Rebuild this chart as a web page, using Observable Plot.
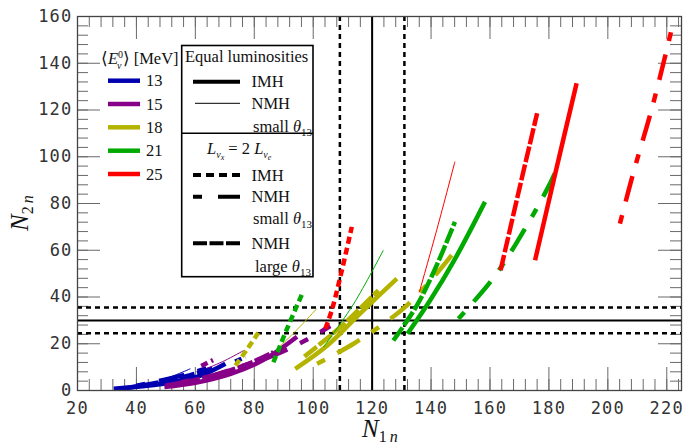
<!DOCTYPE html>
<html><head><meta charset="utf-8">
<script src="https://cdn.jsdelivr.net/npm/d3@7"></script>
<script src="https://cdn.jsdelivr.net/npm/@observablehq/plot@0.6"></script>
<style>body{margin:0;background:#fff} #chart svg{display:block}
.lg text{font-family:"Liberation Serif","Times New Roman",serif;text-anchor:start;fill:#111}
</style>
</head><body><div id="chart"></div>
<script>
// ---- data ----
const energies = [13, 15, 18, 21, 25];
const colors = ["#0000b0", "#880088", "#b4b400", "#00aa00", "#ff0000"];
const xTicks = [20, 40, 60, 80, 100, 120, 140, 160, 180, 200, 220];
const yTicks = [0, 20, 40, 60, 80, 100, 120, 140, 160];

// E = 13 MeV
const e13_eqIMH = [[32.3,0.7],[42,1.8],[52.6,3.6],[62,6.5],[70.2,11.4]];
const e13_eqNMH = [[48.1,4.3],[53,6.5],[58.3,9.3]];
const e13_lxIMH = [[73.5,12.4],[77,14.3]];
const e13_lxNMHs = [[40,2],[50,4.7],[60,8],[68,11.2]];
const e13_lxNMHl = [[36,1],[48,3.5],[58,6.5],[66,9.6]];
// E = 15 MeV
const e15_eqIMH = [[49.5,1.5],[60,3.3],[72,7.1],[83,13],[94.5,23]];
const e15_eqNMH = [[64,9.5],[70,12.8],[76.4,17.1]];
const e15_lxIMH = [[62,10.5],[66,13]];
const e15_lxNMHs = [[55,3.5],[66,6.5],[76,10.5],[86.5,15],[98.4,22.1],[105.8,27.6]];
const e15_lxNMHl = [[50,2.2],[60,4.5],[70,7.8],[80,12.5],[86.5,16.4]];
// E = 18 MeV
const e18_eqIMH = [[93.9,9.3],[105,19.5],[115.9,32.9],[128.4,47.9]];
const e18_eqNMH = [[88,18],[94.5,26],[101.2,35]];
const e18_lxIMH = [[73.6,10.7],[77.5,17.5],[81.5,25]];
const e18_lxNMHs = [[101.3,11.4],[113.7,20],[125.5,30],[131.8,36.4],[141.4,49.3],[147,57.9]];
const e18_lxNMHl = [[97,14.5],[110,28],[122.1,42.9]];
// E = 21 MeV
const e21_eqIMH = [[132,24.3],[139.7,38.6],[148,56],[158.3,80.7]];
const e21_eqNMH = [[103.5,18.6],[113.7,37],[123.8,60]];
const e21_lxIMH = [[86.5,12.1],[91.1,26.4],[96.3,41.5]];
const e21_lxNMHs = [[149.3,30.7],[160.5,47.1],[168.5,62.1],[179.8,87.1],[183.5,97.2]];
const e21_lxNMHl = [[127.2,21.4],[135,36],[141,51],[148.1,72.1]];
// E = 25 MeV
const e25_eqIMH = [[175.3,55.7],[182,92],[189.4,131.4]];
const e25_eqNMH = [[136,42],[142,69],[148.1,97.9]];
const e25_lxIMH = [[104.1,26.4],[106.3,34.3],[109.2,48.6],[113.1,70]];
const e25_lxNMHs = [[204.1,71.4],[208.6,92.9],[214.8,120],[220.4,147.9],[222.1,157.1]];
const e25_lxNMHl = [[163.6,51.4],[169.6,84.3],[176,118.6]];

// reference values (N1 = 120 ± 11, N2 = 30 ± 5.5)
const refX = [120], refXband = [109.05, 130.95];
const refY = [30], refYband = [24.5, 35.5];

// ---- styles ----
const styleDefs = {
  eqIMH: {strokeWidth: 4.5, dash: null},
  eqNMH: {strokeWidth: 1, dash: null},
  lxIMH: {strokeWidth: 4.5, dash: "7,4"},
  lxNMHs: {strokeWidth: 4.5, dash: "9,14,26,14"},
  lxNMHl: {strokeWidth: 4.5, dash: "16,2.5"}
};
const curveSets = [
  [e13_eqIMH, e13_eqNMH, e13_lxIMH, e13_lxNMHs, e13_lxNMHl],
  [e15_eqIMH, e15_eqNMH, e15_lxIMH, e15_lxNMHs, e15_lxNMHl],
  [e18_eqIMH, e18_eqNMH, e18_lxIMH, e18_lxNMHs, e18_lxNMHl],
  [e21_eqIMH, e21_eqNMH, e21_lxIMH, e21_lxNMHs, e21_lxNMHl],
  [e25_eqIMH, e25_eqNMH, e25_lxIMH, e25_lxNMHs, e25_lxNMHl]
];
const styleKeys = ["eqIMH", "eqNMH", "lxIMH", "lxNMHs", "lxNMHl"];

const W = 699, H = 445, mL = 77, mR = 18, mT = 16, mB = 55;
const innerH = H - mT - mB, innerW = W - mL - mR;
const xMinor = d3.range(20, 225, 4), yMinor = d3.range(0, 161, 4);
const tickCol = "#6a6a6a";
const minorLen = 11, majorLen = 23;

const curveMarks = [];
curveSets.forEach((set, i) => {
  set.forEach((pts, j) => {
    const s = styleDefs[styleKeys[j]];
    curveMarks.push(Plot.line(pts, {
      x: d => d[0], y: d => d[1], stroke: colors[i], strokeWidth: s.strokeWidth,
      strokeDasharray: s.dash, strokeLinecap: "butt", curve: pts.length > 2 ? "catmull-rom" : "linear"
    }));
  });
});

const chart = Plot.plot({
  width: W, height: H, marginLeft: mL, marginRight: mR, marginTop: mT, marginBottom: mB,
  x: {domain: [20, 225], label: null},
  y: {domain: [0, 160], label: null},
  style: {background: "white"},
  marks: [
    Plot.tickX(xMinor, {x: d => d, insetTop: innerH - minorLen, stroke: tickCol}),
    Plot.tickX(xMinor, {x: d => d, insetBottom: innerH - minorLen, stroke: tickCol}),
    Plot.tickX(xTicks, {x: d => d, insetTop: innerH - majorLen, stroke: tickCol}),
    Plot.tickX(xTicks, {x: d => d, insetBottom: innerH - majorLen, stroke: tickCol}),
    Plot.tickY(yMinor, {y: d => d, insetRight: innerW - minorLen, stroke: tickCol}),
    Plot.tickY(yMinor, {y: d => d, insetLeft: innerW - minorLen, stroke: tickCol}),
    Plot.tickY(yTicks, {y: d => d, insetRight: innerW - majorLen, stroke: tickCol}),
    Plot.tickY(yTicks, {y: d => d, insetLeft: innerW - majorLen, stroke: tickCol}),
    Plot.ruleX(refX, {x: d => d, stroke: "black", strokeWidth: 2}),
    Plot.ruleX(refXband, {x: d => d, stroke: "black", strokeWidth: 2.5, strokeDasharray: "5,4"}),
    Plot.ruleY(refY, {y: d => d, stroke: "black", strokeWidth: 2}),
    Plot.ruleY(refYband, {y: d => d, stroke: "black", strokeWidth: 2.5, strokeDasharray: "5,4"}),
    ...curveMarks,
    Plot.frame({stroke: "#444", strokeWidth: 1.3}),
    Plot.axisX({ticks: xTicks, tickSize: 0, tickPadding: 11, fontSize: 17, fill: "#333",
      fontFamily: "DejaVu Sans Mono", tickFormat: d => String(d), label: null}),
    Plot.axisY({ticks: yTicks, tickSize: 0, tickPadding: 5, fontSize: 17, fill: "#333",
      fontFamily: "DejaVu Sans Mono", tickFormat: d => String(d), label: null})
  ]
});

const svg = d3.select(chart);
svg.selectAll('g[aria-label="x-axis tick label"] text, g[aria-label="y-axis tick label"] text')
  .style("letter-spacing", "1.2px");

// axis titles
const ax = svg.append("g").attr("class", "lg");
const xt = ax.append("text").attr("x", 362).attr("y", 437)
  .style("font-style", "italic").style("font-size", "25px");
xt.append("tspan").text("N");
xt.append("tspan").style("font-size", "16px").attr("dy", 5).style("font-style", "normal").text("1");
xt.append("tspan").style("font-size", "16px").attr("dx", 3).text("n");

const yt = ax.append("text").attr("transform", "translate(28,231) rotate(-90)")
  .style("font-style", "italic").style("font-size", "25px");
yt.append("tspan").text("N");
yt.append("tspan").style("font-size", "16px").attr("dy", 5).style("font-style", "normal").text("2");
yt.append("tspan").style("font-size", "16px").attr("dx", 3).text("n");

// colour legend
const lg = svg.append("g").attr("class", "lg").style("font-size", "16.5px");
const hdr = lg.append("text").attr("x", 101).attr("y", 58).attr("dy", "0.35em");
hdr.append("tspan").text("⟨");
hdr.append("tspan").style("font-style", "italic").text("E");
hdr.append("tspan").style("font-size", "10px").attr("dy", -6).text("0");
hdr.append("tspan").style("font-size", "10px").style("font-style", "italic").attr("dx", -6).attr("dy", 11).text("ν");
hdr.append("tspan").attr("dy", -5).attr("dx", 1).text("⟩ [MeV]");
const legY = [80.7, 104, 127.3, 150.7, 174];
energies.forEach((e, i) => {
  lg.append("line").attr("x1", 108).attr("x2", 140).attr("y1", legY[i]).attr("y2", legY[i])
    .attr("stroke", colors[i]).attr("stroke-width", 4.5);
  lg.append("text").attr("x", 146).attr("y", legY[i]).attr("dy", "0.35em").text(String(e));
});

// style legend box
const bx = svg.append("g").attr("class", "lg").style("font-size", "16.5px");
bx.append("rect").attr("x", 181.7).attr("y", 45.5).attr("width", 131.3).attr("height", 231.2)
  .attr("fill", "white").attr("stroke", "black").attr("stroke-width", 1.6);
bx.append("line").attr("x1", 181.7).attr("x2", 313).attr("y1", 133.3).attr("y2", 133.3)
  .attr("stroke", "black").attr("stroke-width", 1.6);
function ltext(x, y, parts) {
  const t = bx.append("text").attr("x", x).attr("y", y).attr("dy", "0.35em");
  parts.forEach(p => {
    const s = t.append("tspan").text(p.t);
    if (p.i) s.style("font-style", "italic");
    if (p.fs) s.style("font-size", p.fs + "px");
    if (p.dy) s.attr("dy", p.dy);
    if (p.dx) s.attr("dx", p.dx);
  });
  return t;
}
ltext(185, 56.7, [{t: "Equal luminosities"}]);
const legLines = [
  {y: 81.7, key: "eqIMH", x1: 193},
  {y: 103.3, key: "eqNMH", x1: 195},
  {y: 175, key: "lxIMH", x1: 193},
  {y: 196.7, key: "lxNMHs", x1: 193},
  {y: 243.3, key: "lxNMHl", x1: 193}
];
legLines.forEach(l => {
  const s = styleDefs[l.key];
  const ln = bx.append("line").attr("x1", l.x1).attr("x2", 240).attr("y1", l.y).attr("y2", l.y)
    .attr("stroke", "black").attr("stroke-width", s.strokeWidth === 1 ? 1 : 4);
  if (l.key === "lxIMH") ln.attr("stroke-dasharray", "8,5");
  else if (l.key === "lxNMHs") ln.attr("stroke-dasharray", "9,16,22,0");
  else if (l.key === "lxNMHl") ln.attr("stroke-dasharray", "14,2.5");
});
ltext(251.5, 81.7, [{t: "IMH"}]);
ltext(251.5, 103, [{t: "NMH"}]);
ltext(253, 126.7, [{t: "small "}, {t: "θ", i: true}, {t: "13", fs: 11, dy: 4}]);
ltext(207, 148, [{t: "L", i: true}, {t: "ν", i: true, fs: 10, dy: 4}, {t: "x", i: true, fs: 8, dy: 2},
  {t: " = 2 ", dy: -6}, {t: "L", i: true}, {t: "ν", i: true, fs: 10, dy: 4}, {t: "e", i: true, fs: 8, dy: 2}]);
ltext(251.5, 175, [{t: "IMH"}]);
ltext(251.5, 196.7, [{t: "NMH"}]);
ltext(253, 218.3, [{t: "small "}, {t: "θ", i: true}, {t: "13", fs: 11, dy: 4}]);
ltext(251.5, 243.3, [{t: "NMH"}]);
ltext(255, 266.7, [{t: "large "}, {t: "θ", i: true}, {t: "13", fs: 11, dy: 4}]);

document.getElementById("chart").appendChild(chart);
</script>
</body></html>
